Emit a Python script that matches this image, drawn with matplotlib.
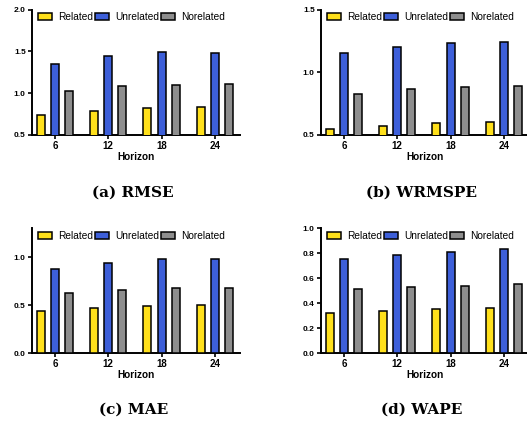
import matplotlib
matplotlib.use("Agg")
import matplotlib.pyplot as plt
import numpy as np

horizons = ["6", "12", "18", "24"]
series_names = ["Related", "Unrelated", "Norelated"]

rmse_related = [0.74, 0.79, 0.82, 0.83]
rmse_unrelated = [1.35, 1.44, 1.49, 1.48]
rmse_norelated = [1.02, 1.08, 1.10, 1.11]

wrmspe_related = [0.55, 0.575, 0.595, 0.60]
wrmspe_unrelated = [1.15, 1.20, 1.23, 1.24]
wrmspe_norelated = [0.83, 0.865, 0.88, 0.89]

mae_related = [0.44, 0.465, 0.49, 0.50]
mae_unrelated = [0.88, 0.94, 0.98, 0.985]
mae_norelated = [0.63, 0.655, 0.675, 0.68]

wape_related = [0.32, 0.34, 0.355, 0.36]
wape_unrelated = [0.75, 0.785, 0.81, 0.83]
wape_norelated = [0.51, 0.53, 0.54, 0.55]

captions = ["(a) RMSE", "(b) WRMSPE", "(c) MAE", "(d) WAPE"]
ylims = [(0.5, 2.0), (0.5, 1.5), (0.0, 1.3), (0.0, 1.0)]
yticks = [[0.5, 1.0, 1.5, 2.0], [0.5, 1.0, 1.5], [0.0, 0.5, 1.0],
          [0.0, 0.2, 0.4, 0.6, 0.8, 1.0]]

colors = ["#FFE01B", "#3D5FD9", "#8E8E8E"]

data = [
    (rmse_related, rmse_unrelated, rmse_norelated),
    (wrmspe_related, wrmspe_unrelated, wrmspe_norelated),
    (mae_related, mae_unrelated, mae_norelated),
    (wape_related, wape_unrelated, wape_norelated),
]

W, H = 527, 433
fig = plt.figure(figsize=(W / 100, H / 100), dpi=100)

# axes rects in pixels: left, top, right, bottom
rects = [
    (32, 9.5, 240, 135),
    (321, 9.5, 529, 135),
    (32, 228.3, 240, 353),
    (321, 228.3, 529, 353),
]
cap_pos = [(133, 193), (421, 193), (134, 410), (422, 410)]

x = np.arange(len(horizons))
bw = 0.15
off = 0.265

for i, (l, t, r, b) in enumerate(rects):
    ax = fig.add_axes([l / W, 1 - b / H, (r - l) / W, (b - t) / H])
    for j, vals in enumerate(data[i]):
        ax.bar(x + (j - 1) * off, vals, width=bw, color=colors[j],
               edgecolor="black", linewidth=1.1, label=series_names[j],
               zorder=3)
    ax.set_xlim(-0.43, 3.47)
    ax.set_ylim(*ylims[i])
    ax.set_yticks(yticks[i])
    ax.set_yticklabels([f"{v:.1f}" for v in yticks[i]],
                       fontsize=6.0, fontweight="bold", family="Liberation Sans")
    ax.set_xticks(x)
    ax.set_xticklabels(horizons, fontsize=7.0, fontweight="bold",
                       family="Liberation Sans")
    ax.set_xlabel("Horizon", fontsize=7.2, fontweight="bold",
                  family="Liberation Sans", labelpad=0.5)
    for s in ["top", "right"]:
        ax.spines[s].set_visible(False)
    for s in ["left", "bottom"]:
        ax.spines[s].set_linewidth(1.4)
    ax.tick_params(axis="both", width=1.2, length=3, pad=1.5)
    leg = ax.legend(loc="upper left", ncol=3, frameon=False,
                    prop={"family": "Liberation Sans", "size": 7.3},
                    handlelength=1.4, handleheight=0.7, handletextpad=0.6,
                    columnspacing=0.15, borderaxespad=0.0,
                    bbox_to_anchor=(0.01, 1.01))
    fig.text(cap_pos[i][0] / W, 1 - cap_pos[i][1] / H, captions[i],
             ha="center", va="center", fontsize=11, fontweight="bold",
             family="DejaVu Serif")

fig.savefig("out.png", dpi=100)
